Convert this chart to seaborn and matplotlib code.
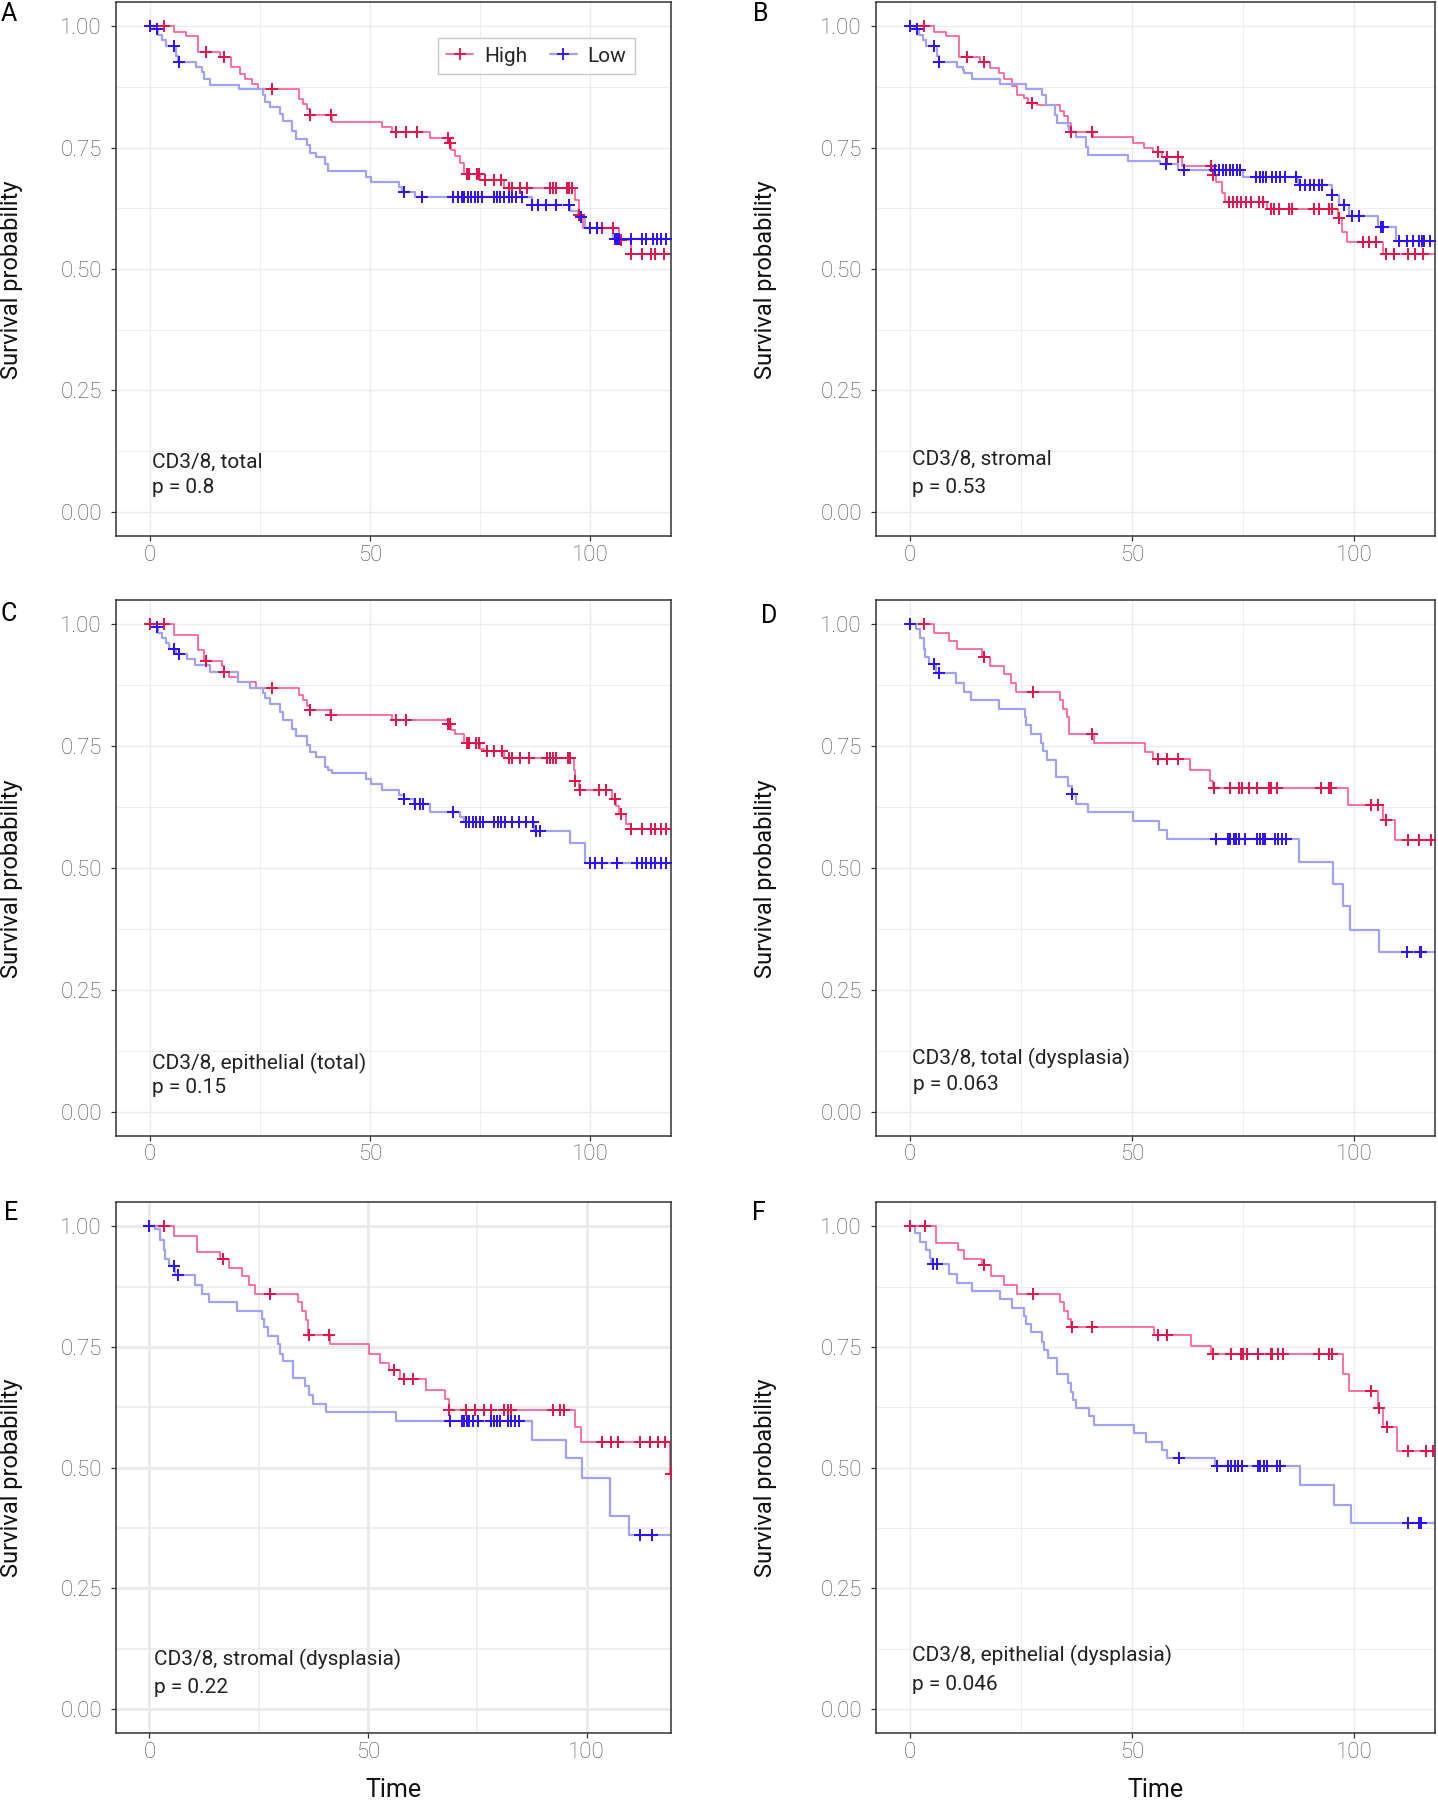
import numpy as np
import pandas as pd
import seaborn as sns
import matplotlib.pyplot as plt
from matplotlib.lines import Line2D

# Kaplan-Meier curves: step times, survival after each step, censor times

# A - CD3/8, total
a_high_t = [0, 5.5, 8.2, 11.0, 16.0, 18.5, 20.5, 21.7, 23.3, 24.5, 34.0, 34.8, 35.6, 36.3, 41.3, 52.8, 54.9, 63.5,
            67.9, 68.4, 69.2, 70.4, 71.3, 75.0, 80.5, 96.6, 97.3, 98.3, 106.5, 109.3]
a_high_s = [1.0, 0.989, 0.979, 0.947, 0.936, 0.917, 0.901, 0.892, 0.881, 0.871, 0.851, 0.840, 0.829, 0.817, 0.803,
            0.793, 0.782, 0.769, 0.760, 0.745, 0.733, 0.719, 0.695, 0.683, 0.667, 0.643, 0.612, 0.584, 0.560, 0.531]
a_high_c = [3.3, 12.9, 16.8, 27.7, 36.4, 41.1, 55.9, 58.1, 60.6, 67.7, 68.1, 72.0, 72.5, 74.3, 74.7, 76.0, 78.1, 79.7,
            81.5, 82.3, 84.0, 85.6, 90.9, 91.5, 92.2, 94.6, 95.2, 95.9, 97.3, 101.5, 102.6, 105.2, 106.9, 109.3, 111.8,
            113.8, 114.7, 116.7]
a_low_t = [0, 1.1, 2.0, 2.9, 3.7, 6.1, 6.5, 10.6, 11.9, 12.3, 13.7, 20.2, 25.8, 26.2, 27.4, 29.5, 30.3, 32.4, 33.2,
           35.6, 36.4, 37.7, 39.7, 40.4, 49.1, 50.2, 56.5, 57.2, 60.2, 86.8, 95.4, 97.2, 98.7, 105.2]
a_low_s = [1.0, 0.994, 0.983, 0.972, 0.959, 0.939, 0.927, 0.917, 0.906, 0.892, 0.879, 0.870, 0.859, 0.845, 0.834,
           0.820, 0.804, 0.785, 0.768, 0.756, 0.738, 0.730, 0.716, 0.701, 0.690, 0.679, 0.668, 0.658, 0.648, 0.632,
           0.620, 0.608, 0.584, 0.562]
a_low_c = [0, 1.6, 5.5, 6.6, 57.7, 61.8, 68.8, 70.0, 70.8, 71.4, 72.3, 73.0, 73.8, 74.5, 75.3, 78.2, 78.9, 79.6, 80.3,
           81.5, 82.3, 83.2, 84.4, 86.8, 88.0, 90.0, 92.1, 95.2, 97.9, 99.9, 101.5, 105.6, 106.0, 106.5, 109.3, 111.8,
           112.6, 114.2, 115.1, 115.9, 117.1]

# B - CD3/8, stromal
b_high_t = [0, 5.5, 8.2, 11.0, 15.9, 18.0, 20.0, 21.2, 22.9, 24.1, 25.7, 26.5, 28.6, 33.9, 34.7, 35.5, 36.2, 41.2,
            50.2, 52.7, 54.7, 56.7, 61.2, 68.2, 69.0, 70.2, 71.0, 80.4, 96.3, 97.3, 98.4, 106.5]
b_high_s = [1.0, 0.989, 0.979, 0.937, 0.927, 0.914, 0.903, 0.892, 0.877, 0.859, 0.853, 0.842, 0.837, 0.826, 0.815,
            0.800, 0.783, 0.771, 0.760, 0.749, 0.741, 0.730, 0.712, 0.694, 0.679, 0.657, 0.639, 0.623, 0.606, 0.577,
            0.555, 0.531]
b_high_c = [3.3, 12.8, 16.7, 27.6, 36.3, 41.0, 55.9, 58.0, 60.4, 67.8, 68.3, 71.8, 72.8, 73.6, 74.5, 75.6, 76.7, 78.5,
            79.6, 81.2, 82.0, 83.0, 85.3, 86.1, 91.0, 92.2, 94.3, 95.1, 96.7, 102.0, 103.3, 104.9, 107.2, 109.0, 112.1,
            113.7, 115.5]
b_low_t = [0, 1.1, 2.0, 2.9, 3.7, 6.1, 6.5, 10.6, 11.9, 12.3, 13.9, 20.2, 26.1, 29.8, 30.6, 32.7, 33.1, 35.5, 35.9,
           37.5, 39.6, 40.2, 49.0, 56.3, 60.4, 75.1, 87.3, 95.1, 96.7, 98.8, 105.3, 109.4]
b_low_s = [1.0, 0.994, 0.983, 0.972, 0.959, 0.939, 0.927, 0.917, 0.910, 0.903, 0.892, 0.881, 0.870, 0.859, 0.837,
           0.818, 0.800, 0.795, 0.783, 0.771, 0.752, 0.734, 0.723, 0.716, 0.703, 0.689, 0.673, 0.653, 0.632, 0.610,
           0.586, 0.558]
b_low_c = [0, 1.6, 5.5, 6.5, 57.7, 61.8, 68.6, 69.5, 70.4, 71.2, 72.0, 72.8, 73.6, 74.3, 78.0, 78.8, 79.5, 80.2, 81.6,
           82.5, 83.3, 84.4, 86.9, 87.8, 89.0, 90.0, 91.0, 92.0, 92.7, 95.1, 97.8, 99.6, 101.2, 106.1, 106.5, 110.2,
           112.0, 113.3, 114.5, 115.2, 115.7, 117.1]

# C - CD3/8, epithelial (total)
c_high_t = [0, 5.5, 11.1, 12.3, 16.4, 16.8, 18.0, 20.0, 24.1, 34.0, 34.8, 35.6, 36.3, 41.0, 54.9, 67.6, 68.4, 69.2,
            71.3, 75.0, 75.8, 80.3, 96.2, 96.6, 97.5, 104.8, 105.8, 106.5, 108.1, 109.3]
c_high_s = [1.0, 0.978, 0.947, 0.925, 0.914, 0.903, 0.892, 0.881, 0.870, 0.855, 0.844, 0.833, 0.824, 0.813, 0.804,
            0.796, 0.784, 0.774, 0.756, 0.745, 0.739, 0.725, 0.701, 0.679, 0.659, 0.642, 0.628, 0.610, 0.591, 0.580]
c_high_c = [0, 3.3, 12.9, 16.8, 27.7, 36.4, 41.1, 55.9, 58.1, 67.7, 68.1, 72.0, 72.5, 74.1, 74.7, 76.6, 78.2, 79.9,
            81.5, 82.3, 84.0, 86.0, 90.1, 90.9, 91.5, 92.1, 94.8, 95.4, 96.6, 97.7, 102.0, 103.6, 105.5, 106.9, 109.3,
            111.8, 113.8, 114.7, 115.9, 117.1]
c_low_t = [0, 1.1, 2.0, 2.9, 3.7, 4.5, 6.1, 8.6, 10.4, 13.7, 20.1, 22.7, 25.8, 26.2, 27.4, 29.5, 30.3, 32.4, 33.2,
           35.6, 36.4, 37.7, 39.7, 40.4, 41.4, 49.1, 50.2, 52.8, 56.5, 57.7, 60.0, 63.5, 70.4, 71.3, 87.2, 95.4, 98.7]
c_low_s = [1.0, 0.994, 0.983, 0.972, 0.961, 0.950, 0.939, 0.928, 0.916, 0.903, 0.881, 0.870, 0.859, 0.848, 0.837,
           0.820, 0.804, 0.785, 0.771, 0.752, 0.738, 0.727, 0.708, 0.701, 0.694, 0.683, 0.672, 0.661, 0.650, 0.641,
           0.631, 0.615, 0.604, 0.595, 0.575, 0.551, 0.511]
c_low_c = [1.6, 5.5, 6.6, 57.7, 60.2, 61.4, 62.0, 68.8, 71.7, 72.5, 73.3, 74.1, 74.9, 75.7, 78.2, 79.0, 79.7, 80.6,
           82.2, 83.8, 85.4, 86.9, 87.6, 88.5, 99.9, 101.1, 102.6, 106.1, 110.6, 111.8, 112.6, 113.8, 114.7, 115.9,
           117.1]

# D - CD3/8, total (dysplasia)
d_high_t = [0, 5.4, 8.8, 10.7, 16.3, 18.0, 21.1, 22.7, 23.9, 33.9, 34.5, 35.3, 35.9, 41.5, 52.9, 54.7, 63.1, 67.6,
            68.2, 98.6, 106.4, 109.2]
d_high_s = [1.0, 0.982, 0.965, 0.949, 0.932, 0.914, 0.897, 0.879, 0.862, 0.844, 0.827, 0.809, 0.774, 0.756, 0.738,
            0.723, 0.701, 0.679, 0.664, 0.630, 0.599, 0.558]
d_high_c = [3.3, 16.6, 27.8, 41.1, 55.8, 58.0, 60.4, 68.4, 72.1, 74.1, 74.8, 76.3, 78.1, 80.9, 81.3, 82.7, 92.5, 94.4,
            94.9, 103.9, 105.4, 107.2, 112.1, 114.5, 117.4]
d_low_t = [0, 1.5, 2.3, 3.1, 3.5, 4.3, 6.0, 10.4, 12.1, 13.7, 20.1, 26.0, 26.1, 27.2, 29.6, 30.0, 30.8, 32.9, 35.6,
           36.4, 37.4, 40.2, 50.2, 56.2, 57.8, 87.6, 95.2, 97.4, 99.0, 105.6]
d_low_s = [1.0, 0.99, 0.972, 0.950, 0.932, 0.919, 0.901, 0.879, 0.861, 0.844, 0.827, 0.810, 0.793, 0.774, 0.756,
           0.739, 0.722, 0.686, 0.668, 0.651, 0.632, 0.615, 0.597, 0.578, 0.560, 0.513, 0.467, 0.421, 0.373, 0.327]
d_low_c = [0, 5.4, 6.5, 36.6, 69.0, 71.7, 72.1, 72.9, 73.5, 74.1, 75.5, 78.2, 78.9, 79.4, 80.0, 82.1, 82.9, 83.7, 84.6,
           111.9, 114.8, 115.1]

# E - CD3/8, stromal (dysplasia)
e_high_t = [0, 5.6, 10.8, 16.2, 18.3, 21.2, 22.9, 24.1, 33.9, 34.9, 35.8, 36.2, 41.4, 50.3, 52.8, 54.9, 57.4, 63.3,
            67.5, 68.6, 97.3, 98.7, 119.0]
e_high_s = [1.0, 0.979, 0.946, 0.932, 0.913, 0.896, 0.878, 0.860, 0.843, 0.825, 0.806, 0.775, 0.755, 0.736, 0.717,
            0.702, 0.683, 0.661, 0.641, 0.620, 0.585, 0.552, 0.486]
e_high_c = [3.3, 16.8, 27.7, 36.4, 41.0, 55.9, 58.2, 60.3, 68.6, 72.3, 74.4, 76.5, 78.1, 81.0, 81.9, 82.7, 92.3, 93.9,
            94.8, 103.5, 105.6, 107.2, 112.2, 114.5, 116.2, 117.9, 119.2]
e_low_t = [0, 1.2, 2.5, 3.3, 3.7, 4.6, 5.8, 10.4, 12.1, 13.7, 20.1, 25.8, 26.2, 27.2, 29.5, 29.9, 30.6, 32.8, 35.5,
           36.6, 37.4, 40.3, 56.4, 87.5, 95.2, 98.9, 105.4, 109.6]
e_low_s = [1.0, 0.994, 0.972, 0.950, 0.932, 0.917, 0.898, 0.878, 0.860, 0.843, 0.825, 0.808, 0.792, 0.773, 0.755,
           0.736, 0.720, 0.685, 0.668, 0.650, 0.632, 0.615, 0.596, 0.557, 0.519, 0.479, 0.399, 0.361]
e_low_c = [0, 5.6, 6.5, 68.8, 71.5, 71.9, 72.7, 73.2, 74.0, 75.2, 78.1, 78.8, 79.4, 80.2, 81.9, 82.7, 83.5, 84.6,
           112.1, 115.0]

# F - CD3/8, epithelial (dysplasia)
f_high_t = [0, 5.9, 10.9, 12.2, 16.2, 18.3, 21.2, 24.1, 33.9, 34.7, 35.5, 36.2, 54.9, 63.4, 67.8, 97.6, 98.8, 105.3,
            106.5, 109.6]
f_high_s = [1.0, 0.966, 0.950, 0.932, 0.919, 0.897, 0.879, 0.860, 0.843, 0.825, 0.807, 0.791, 0.774, 0.752, 0.735,
            0.694, 0.658, 0.623, 0.583, 0.535]
f_high_c = [0, 3.4, 16.7, 27.8, 36.6, 41.1, 55.9, 58.0, 68.3, 72.4, 74.5, 75.1, 75.9, 78.4, 81.2, 81.6, 82.9, 84.1,
            92.2, 94.4, 95.1, 103.7, 105.5, 107.3, 112.1, 116.2, 117.8]
f_low_t = [0, 1.2, 2.4, 3.7, 4.5, 4.8, 8.8, 10.6, 13.9, 20.2, 22.9, 25.7, 26.1, 27.3, 29.8, 30.2, 31.0, 33.1, 35.7,
           36.2, 36.7, 37.5, 40.4, 41.5, 50.4, 53.1, 56.7, 58.0, 68.6, 87.8, 95.5, 99.2]
f_low_s = [1.0, 0.985, 0.968, 0.950, 0.934, 0.921, 0.901, 0.882, 0.866, 0.849, 0.831, 0.814, 0.797, 0.780, 0.760,
           0.744, 0.727, 0.693, 0.676, 0.656, 0.640, 0.623, 0.606, 0.589, 0.572, 0.553, 0.536, 0.520, 0.503, 0.463,
           0.423, 0.386]
f_low_c = [5.3, 6.1, 60.7, 69.1, 71.6, 72.2, 73.1, 73.9, 74.7, 78.4, 78.9, 79.8, 80.4, 82.7, 83.4, 112.2, 114.7, 115.1]

titles = ['CD3/8, total', 'CD3/8, stromal', 'CD3/8, epithelial (total)', 'CD3/8, total (dysplasia)',
          'CD3/8, stromal (dysplasia)', 'CD3/8, epithelial (dysplasia)']
pvalues = ['p = 0.8', 'p = 0.53', 'p = 0.15', 'p = 0.063', 'p = 0.22', 'p = 0.046']
letters = ['A', 'B', 'C', 'D', 'E', 'F']

sns.set_theme(style='white')
plt.rcParams['font.family'] = ['Roboto', 'DejaVu Sans']

HIGH_LINE = '#FF5C8E'
HIGH_MARK = '#E2124A'
LOW_LINE = '#A2A2F2'
LOW_MARK = '#2C10FF'


def km_frame(t, s, end=125):
    # carry the last value out to the right edge
    return pd.DataFrame({'time': list(t) + [end], 'surv': list(s) + [s[-1]]})


def censor_frame(t, s, c):
    idx = np.searchsorted(t, c, side='right') - 1
    return pd.DataFrame({'time': c, 'surv': np.asarray(s)[idx]})


panels = [
    ((a_high_t, a_high_s, a_high_c), (a_low_t, a_low_s, a_low_c)),
    ((b_high_t, b_high_s, b_high_c), (b_low_t, b_low_s, b_low_c)),
    ((c_high_t, c_high_s, c_high_c), (c_low_t, c_low_s, c_low_c)),
    ((d_high_t, d_high_s, d_high_c), (d_low_t, d_low_s, d_low_c)),
    ((e_high_t, e_high_s, e_high_c), (e_low_t, e_low_s, e_low_c)),
    ((f_high_t, f_high_s, f_high_c), (f_low_t, f_low_s, f_low_c)),
]

fig = plt.figure(figsize=(14.38, 18.0), dpi=100)
col_left = [0.0807, 0.6092]
col_width = [0.386, 0.389]
row_bottom = [0.7022, 0.3689, 0.0372]
row_height = [0.2967, 0.2978, 0.295]
ylab_x = [-0.168, -0.177]
text_pos = [(0.5, 0.102, 0.5, 0.049), (0.5, 0.108, 0.5, 0.049), (0.5, 0.099, 0.5, 0.049),
            (0.5, 0.11, 0.8, 0.055), (1.0, 0.103, 1.0, 0.045), (0.6, 0.11, 0.5, 0.05)]
letter_xy = [(0.006, 0.992), (0.529, 0.992), (0.006, 0.659), (0.535, 0.658), (0.0077, 0.326), (0.528, 0.326)]

for i, (high, low) in enumerate(panels):
    r, col = i // 2, i % 2
    ax = fig.add_axes([col_left[col], row_bottom[r], col_width[col], row_height[r]])
    thick = (i == 4)

    for (t, s, c), lc, lw in [(high, HIGH_LINE, 1.2), (low, LOW_LINE, 1.6)]:
        sns.lineplot(data=km_frame(t, s), x='time', y='surv', drawstyle='steps-post', color=lc, lw=lw,
                     estimator=None, sort=False, ax=ax)
    for (t, s, c), mc in [(high, HIGH_MARK), (low, LOW_MARK)]:
        sns.scatterplot(data=censor_frame(t, s, c), x='time', y='surv', marker='+', s=80, color=mc,
                        linewidth=1.4, ax=ax, zorder=3)

    ax.set_xlim(-7.6, 119.3 if thick else 118.3)
    ax.set_ylim(-0.05, 1.05)
    ax.set_xticks([0, 50, 100])
    ax.set_yticks([0, 0.25, 0.5, 0.75, 1.0])
    ax.set_yticklabels(['0.00', '0.25', '0.50', '0.75', '1.00'])
    ax.set_xticks([25, 75], minor=True)
    ax.set_yticks([0.125, 0.375, 0.625, 0.875], minor=True)
    ax.grid(which='major', color='#EBEBEB', lw=2.1 if thick else 1.0)
    ax.grid(which='minor', color='#EBEBEB', lw=1.1 if thick else 0.6)
    ax.set_axisbelow(True)
    for sp in ax.spines.values():
        sp.set_color('#333333')
        sp.set_linewidth(1.1)
    ax.tick_params(which='major', length=3.6, width=0.9, color='#333333', labelsize=16, labelcolor='#4D4D4D',
                   left=True, bottom=True)
    for lab in ax.get_xticklabels() + ax.get_yticklabels():
        lab.set_fontweight('light')
    ax.tick_params(axis='x', pad=2.5)
    ax.tick_params(axis='y', pad=6.5)
    ax.tick_params(which='minor', length=0)

    ax.set_ylabel('Survival probability', fontsize=17, color='#111111')
    ax.yaxis.set_label_coords(ylab_x[col], 0.48)
    if r == 2:
        ax.set_xlabel('Time', fontsize=18, color='#111111')
        ax.xaxis.set_label_coords(0.5, -0.084)
    else:
        ax.set_xlabel('')

    tx, ty, px, py = text_pos[i]
    ax.text(tx, ty, titles[i], fontsize=15, color='#222222', ha='left', va='center')
    ax.text(px, py, pvalues[i], fontsize=15, color='#222222', ha='left', va='center')
    fig.text(letter_xy[i][0], letter_xy[i][1], letters[i], fontsize=18, ha='center', va='center',
             color='#000000')

    if i == 0:
        handles = [Line2D([], [], color=HIGH_LINE, lw=1.2, marker='+', markersize=9, markeredgecolor=HIGH_MARK,
                          markeredgewidth=1.3),
                   Line2D([], [], color=LOW_LINE, lw=1.6, marker='+', markersize=9, markeredgecolor=LOW_MARK,
                          markeredgewidth=1.3)]
        leg = ax.legend(handles, ['High', 'Low'], loc='upper right', bbox_to_anchor=(0.935, 0.933), ncol=2,
                        fontsize=15, frameon=True, fancybox=False, borderaxespad=0, handlelength=1.3,
                        columnspacing=1.1, handletextpad=0.5, borderpad=0.42)
        leg.get_frame().set_edgecolor('#BBBBBB')
        leg.get_frame().set_linewidth(1.0)
    else:
        leg = ax.get_legend()
        if leg is not None:
            leg.remove()

fig.savefig('out.png', dpi=100)
